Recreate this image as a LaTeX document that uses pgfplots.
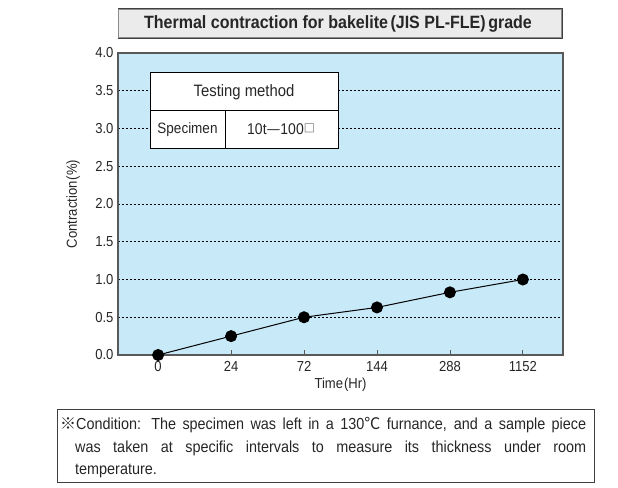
\documentclass[border=0pt]{standalone}
\usepackage{fontspec}
\setmainfont{Liberation Sans}[FakeStretch=0.9]
\newfontfamily\cjk{Noto Sans CJK JP}
\usepackage{pgfplots}
\pgfplotsset{compat=1.18}
\definecolor{plotbg}{HTML}{C8E9F8}
\definecolor{titlebg}{HTML}{EBEBEB}

\begin{document}
\begin{tikzpicture}[x=1pt,y=1pt]
\path (0,0) rectangle (618,487);
% title box
\draw[draw=black!75, line width=1.6pt] (119,449) rectangle (562,478);
\draw[draw=black!45, fill=titlebg, line width=0.8pt] (118,450) rectangle (561,478);
\node[font=\fontsize{17.8}{19}\selectfont\bfseries, text=black!85] at (338,463.5) {Thermal contraction for bakelite\kern2.5pt(JIS PL-FLE)\kern2.5pt grade};

\begin{axis}[
  at={(118pt,132pt)}, anchor=south west, scale only axis,
  width=445pt, height=302pt,
  xmin=-0.55, xmax=5.55, ymin=0, ymax=4,
  xtick={0,1,2,3,4,5}, xticklabels={0,24,72,144,288,1152},
  ytick={0,0.5,1,1.5,2,2.5,3,3.5,4},
  ymajorgrids, grid style={black, dash pattern=on 2pt off 2pt, line width=0.6pt},
  axis background/.style={fill=plotbg},
  axis line style={black!65, line width=1.2pt},
  xtick pos=bottom, ytick pos=left, xtick align=inside,
  major tick length=5pt,
  xtick style={black!65, line width=0.8pt},
  ytick style={draw=none},
  tick label style={font=\fontsize{14.5}{16}\selectfont, text=black!85},
  xticklabel style={yshift=-3pt},
  yticklabel style={xshift=-1pt, /pgf/number format/.cd, fixed, fixed zerofill, precision=1},
  /pgf/number format/assume math mode=true,
  xlabel={Time\kern1pt(Hr)},
  ylabel={Contraction\kern1pt(\%)},
  label style={font=\fontsize{14.5}{16}\selectfont, text=black!85},
  xlabel style={at={(axis description cs:0.5,-0.1)}, anchor=center},
  ylabel style={at={(axis description cs:-0.101,0.5)}, anchor=center},
  clip=false,
]
\addplot[black, line width=1pt, mark=*, mark size=5.5pt, mark options={fill=black}]
  coordinates {(0,0) (1,0.25) (2,0.5) (3,0.63) (4,0.83) (5,1.0)};
\end{axis}

% inset table
\draw[fill=white, line width=0.8pt] (150,339) rectangle (338,415);
\draw[line width=0.8pt] (150,377) -- (338,377);
\draw[line width=0.8pt] (225,339) -- (225,377);
\node[font=\fontsize{16.5}{18}\selectfont, text=black!85] at (244,395) {Testing method};
\node[font=\fontsize{15}{17}\selectfont, text=black!85] at (187.5,357) {Specimen};
\node[font=\fontsize{15.5}{17}\selectfont, text=black!85] at (281,358) {10t{\cjk —}100\raisebox{2pt}{\fontsize{11}{11}\cjk □}};

% condition box
\draw[line width=0.9pt, black!75] (57,5) rectangle (594,78);
\node[anchor=base west, inner sep=0pt, font=\fontsize{16}{22.5}\selectfont, text=black!85] at (60,57) {\parbox[t]{526pt}{\hangindent=15pt\hangafter=1 {\cjk ※}Condition: The specimen was left in a 130{\cjk ℃} furnance, and a sample piece\linebreak was taken at specific intervals to measure its thickness under room\linebreak temperature.}};
\end{tikzpicture}
\end{document}
